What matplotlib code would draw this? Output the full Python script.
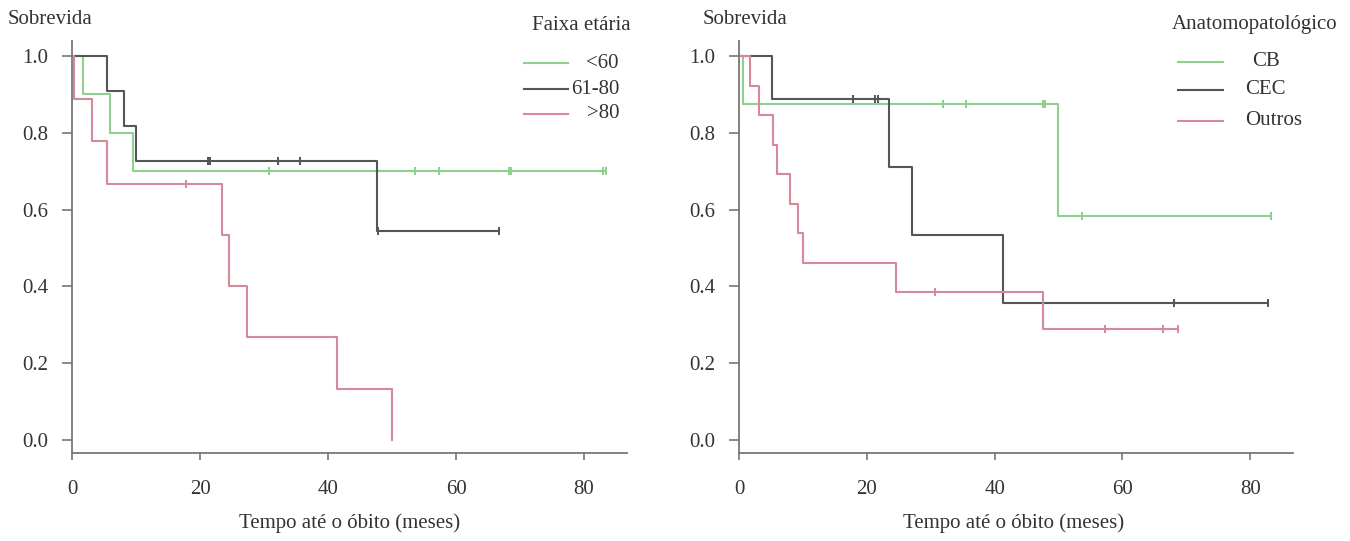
import numpy as np
import matplotlib
matplotlib.use("Agg")
import matplotlib.pyplot as plt
from matplotlib.lines import Line2D

plt.rcParams["font.family"] = ["Liberation Serif", "DejaVu Serif"]

# ─── Data ────────────────────────────────────────────────────────────────────

GREEN = "#8fcf8f"
GRAY = "#555555"
RED = "#d48a98"

# Left panel: Faixa etária
age_labels = ["<60", "61-80", ">80"]
age_times = [
    [0, 1.7, 5.9, 9.6],
    [0, 5.5, 8.2, 10.0, 47.6],
    [0, 0.3, 3.1, 5.4, 23.4, 24.6, 27.3, 41.4, 50.0],
]
age_surv = [
    [1.0, 0.9, 0.8, 0.7],
    [1.0, 0.909, 0.818, 0.727, 0.545],
    [1.0, 0.889, 0.778, 0.667, 0.533, 0.4, 0.267, 0.133, 0.0],
]
age_end = [83.4, 66.7, 50.0]
age_cens = [
    [30.7, 53.6, 57.4, 68.2, 68.6, 83.0, 83.4],
    [21.2, 21.6, 32.2, 35.6, 47.8, 66.7],
    [17.8],
]

# Right panel: Anatomopatológico
hist_labels = ["CB", "CEC", "Outros"]
hist_times = [
    [0, 0.6, 49.9],
    [0, 5.2, 23.4, 27.0, 41.3],
    [0, 1.7, 3.1, 5.3, 5.9, 8.0, 9.2, 10.0, 24.5, 47.5],
]
hist_surv = [
    [1.0, 0.875, 0.583],
    [1.0, 0.889, 0.711, 0.533, 0.356],
    [1.0, 0.923, 0.846, 0.769, 0.692, 0.615, 0.538, 0.462, 0.385, 0.289],
]
hist_end = [83.3, 82.8, 68.7]
hist_cens = [
    [31.9, 35.5, 47.5, 47.9, 53.7, 83.3],
    [17.8, 21.3, 21.7, 68.1, 82.8],
    [30.6, 57.3, 66.4, 68.7],
]

colors = [GREEN, GRAY, RED]
xticks = [0, 20, 40, 60, 80]
yticks = [0.0, 0.2, 0.4, 0.6, 0.8, 1.0]
FS = 15


# ─── Helpers ──────────────────────────────────────────────────────────────────

def px(x, y):
    """pixel (from top-left) -> figure fraction"""
    return x / 1350, 1 - y / 541


def km_panel(ax, times, surv, ends, cens, cols):
    for t, s, e, c, col in zip(times, surv, ends, cens, cols):
        x = list(t) + [e]
        y = list(s) + [s[-1]]
        ax.step(x, y, where="post", color=col, lw=1.5)
        idx = np.searchsorted(t, c, side="right") - 1
        ax.plot(c, np.array(s)[idx], ls="none", marker="|", ms=6,
                mew=1.4, color=col)
    ax.set_xlim(0, 86.7)
    ax.set_ylim(-0.035, 1.04)
    ax.set_xticks(xticks)
    ax.set_yticks(yticks)
    ax.set_yticklabels([f"{v:.1f}" for v in yticks])
    for sp in ["top", "right"]:
        ax.spines[sp].set_visible(False)
    for sp in ["left", "bottom"]:
        ax.spines[sp].set_color("#777777")
        ax.spines[sp].set_linewidth(1.3)
    ax.tick_params(axis="y", length=7, width=1.2, color="#777777",
                   pad=10, labelsize=FS, labelcolor="#333333")
    ax.tick_params(axis="x", length=5, width=1.2, color="#777777",
                   pad=14, labelsize=FS, labelcolor="#333333")


def manual_legend(fig, title, title_xy, labels, line_x, line_ys, label_x, cols):
    fig.text(*px(*title_xy), title, ha="left", va="center", fontsize=FS,
             color="#333333")
    for lab, ly, lx, col in zip(labels, line_ys, label_x, cols):
        x0, y0 = px(line_x[0], ly)
        x1, _ = px(line_x[1], ly)
        fig.add_artist(Line2D([x0, x1], [y0, y0], transform=fig.transFigure,
                              color=col, lw=1.5))
        fig.text(*px(lx, ly), lab, ha="left", va="center", fontsize=FS,
                 color="#333333")


# ─── Figure ──────────────────────────────────────────────────────────────────

fig = plt.figure(figsize=(13.5, 5.41), dpi=100)
ax1 = fig.add_axes([72 / 1350, 1 - 453.4 / 541, 555 / 1350, 412.8 / 541])
ax2 = fig.add_axes([739 / 1350, 1 - 453.4 / 541, 554 / 1350, 412.8 / 541])

km_panel(ax1, age_times, age_surv, age_end, age_cens, colors)
km_panel(ax2, hist_times, hist_surv, hist_end, hist_cens, colors)

fig.text(*px(8, 19), "Sobrevida", ha="left", va="center", fontsize=FS,
         color="#333333")
fig.text(*px(703, 19), "Sobrevida", ha="left", va="center", fontsize=FS,
         color="#333333")

fig.text(*px(350, 523), "Tempo até o óbito (meses)", ha="center",
         va="center", fontsize=FS, color="#333333")
fig.text(*px(1014, 523), "Tempo até o óbito (meses)", ha="center",
         va="center", fontsize=FS, color="#333333")

manual_legend(fig, "Faixa etária", (532, 25), age_labels, (524, 568),
              [63, 89, 114], [586, 571, 587], colors)
manual_legend(fig, "Anatomopatológico", (1172, 25), hist_labels, (1178, 1223),
              [62, 90, 121], [1252, 1245, 1245], colors)

fig.savefig("out.png", dpi=100)
